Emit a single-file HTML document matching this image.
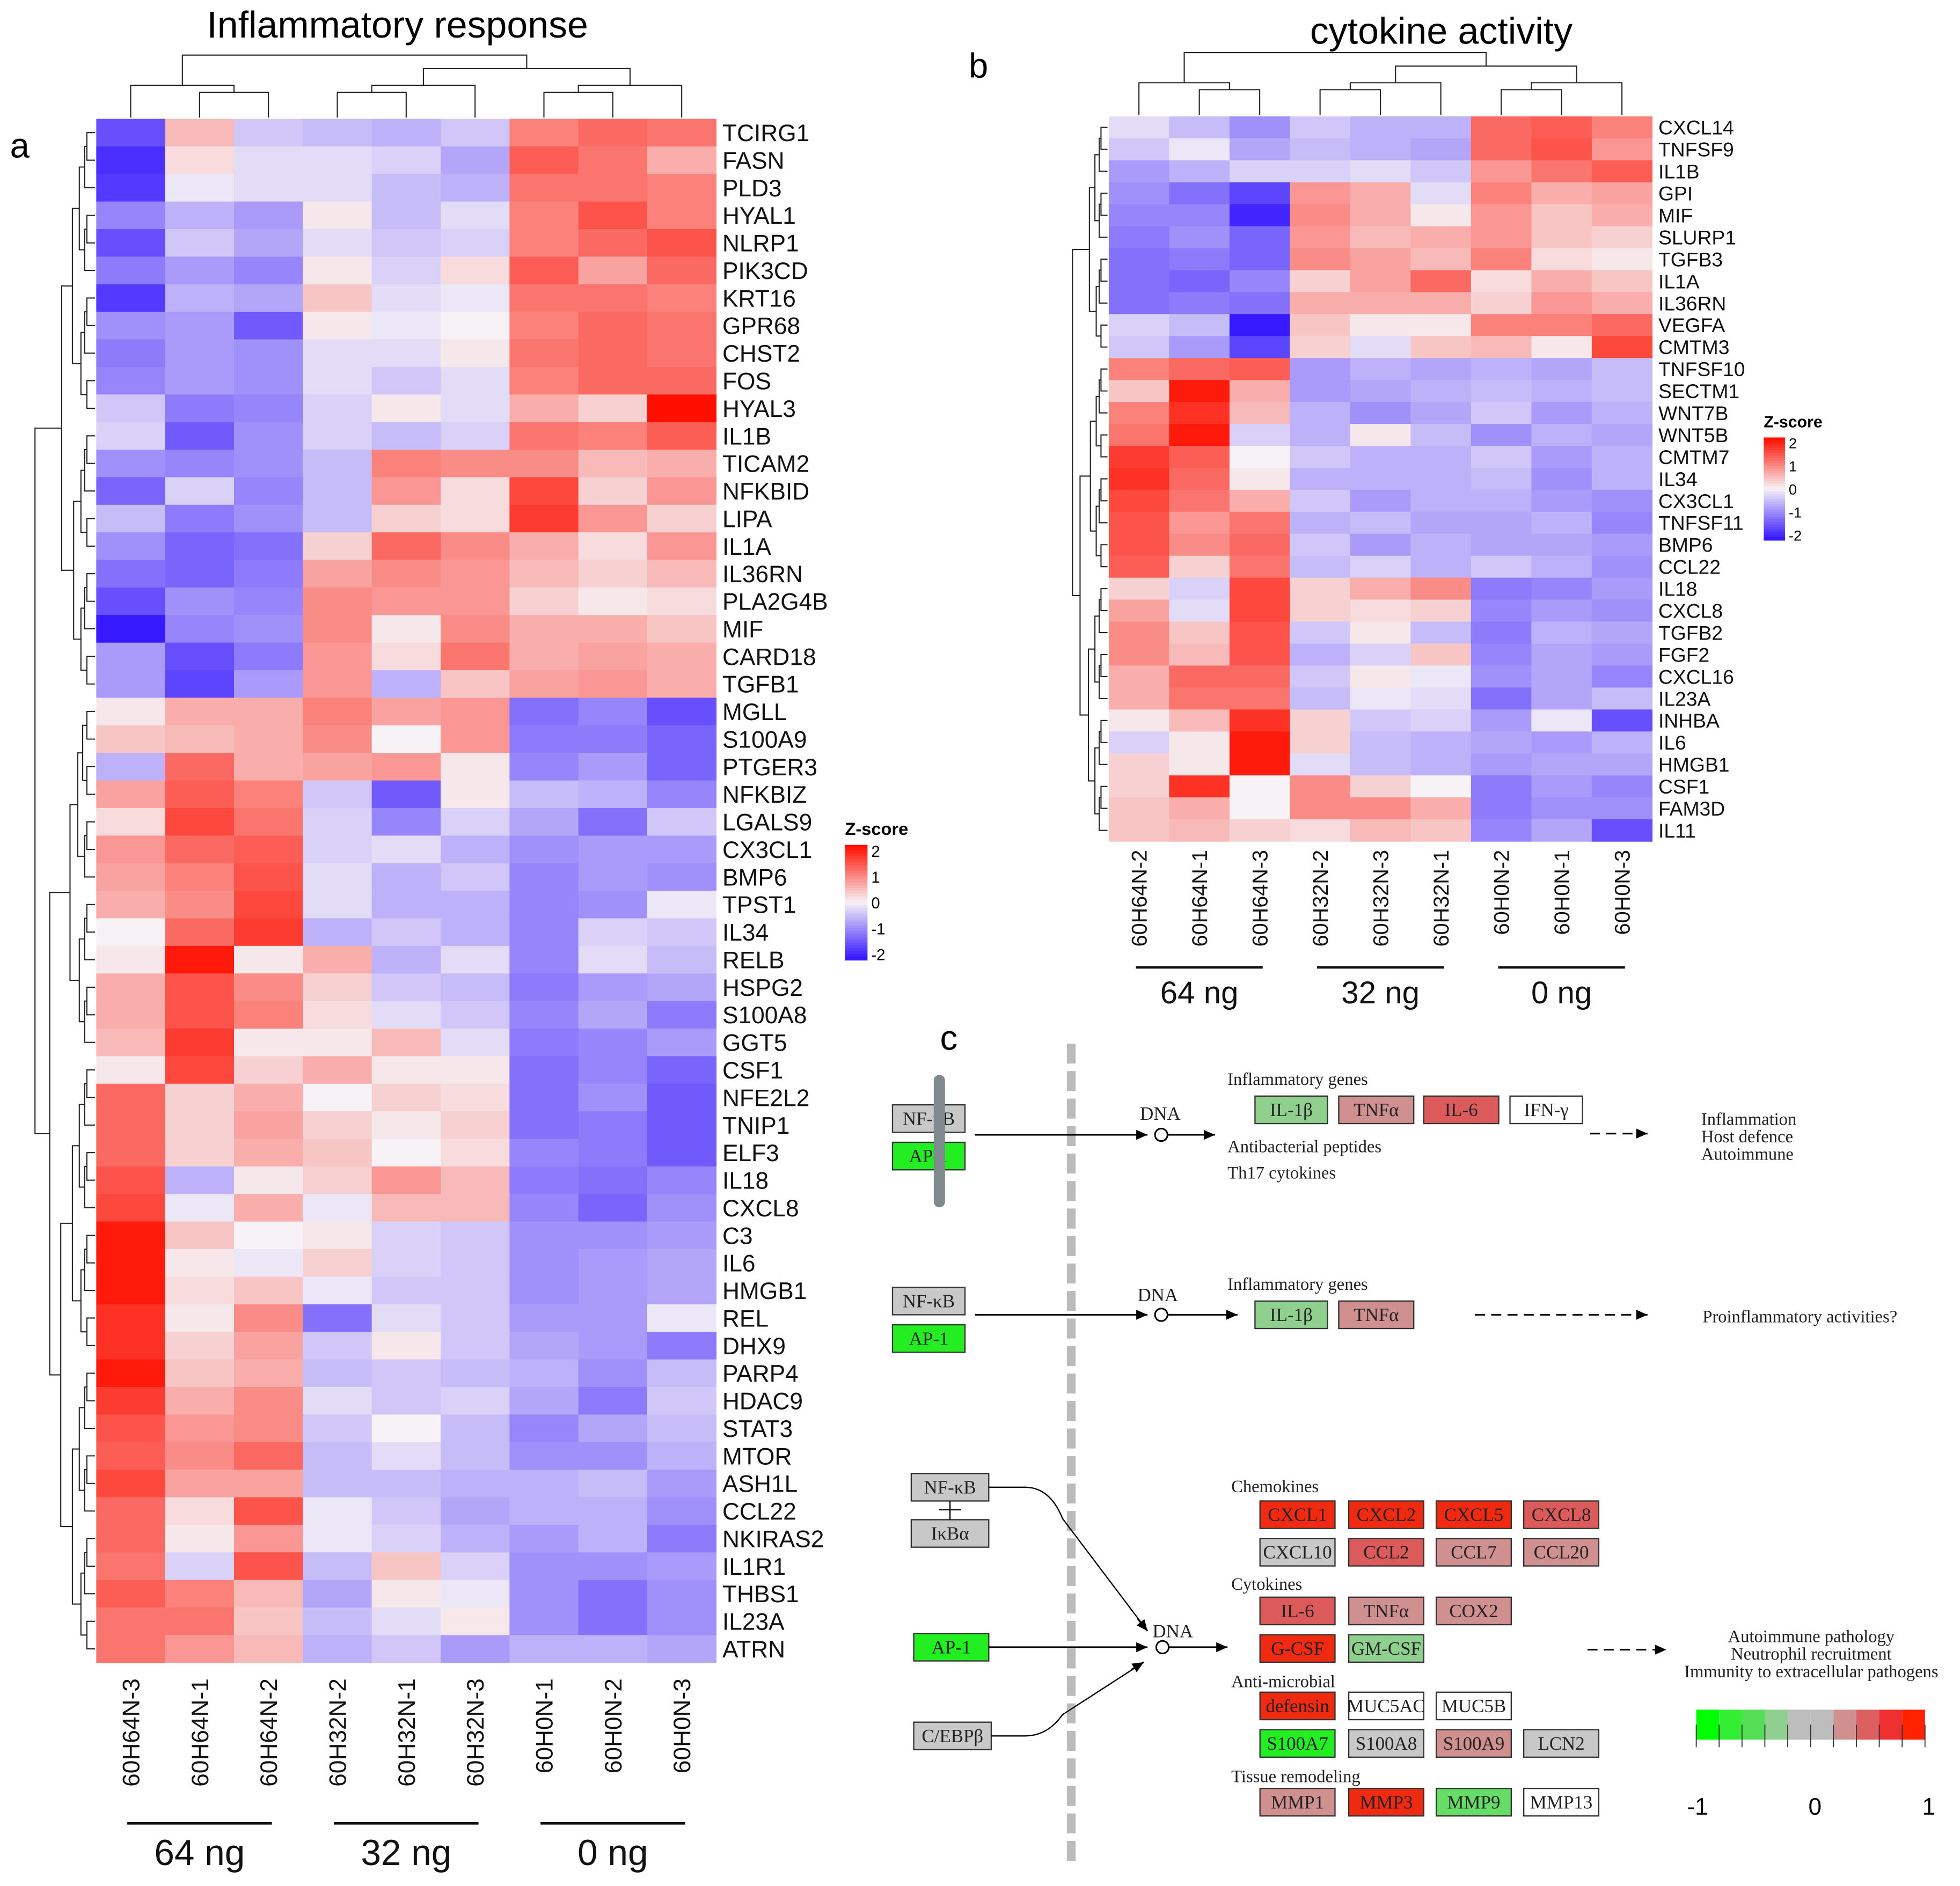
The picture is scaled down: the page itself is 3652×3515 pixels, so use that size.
<!DOCTYPE html>
<html><head><meta charset="utf-8">
<style>html,body{margin:0;padding:0;background:#fff;}svg{display:block;}</style>
</head><body>
<svg id="fig" xmlns="http://www.w3.org/2000/svg" width="3652" height="3515" viewBox="0 0 1568 1509" font-family="Liberation Sans, Arial, sans-serif">
<rect width="1568" height="1509" fill="#fff"/>
<g id="gA"></g>
<g id="gB"></g>
<g id="gC"></g>
</svg>
<script>
const colsA=["60H64N-3","60H64N-1","60H64N-2","60H32N-2","60H32N-1","60H32N-3","60H0N-1","60H0N-2","60H0N-3"];
const rowsA=["TCIRG1","FASN","PLD3","HYAL1","NLRP1","PIK3CD","KRT16","GPR68","CHST2","FOS","HYAL3","IL1B","TICAM2","NFKBID","LIPA","IL1A","IL36RN","PLA2G4B","MIF","CARD18","TGFB1","MGLL","S100A9","PTGER3","NFKBIZ","LGALS9","CX3CL1","BMP6","TPST1","IL34","RELB","HSPG2","S100A8","GGT5","CSF1","NFE2L2","TNIP1","ELF3","IL18","CXCL8","C3","IL6","HMGB1","REL","DHX9","PARP4","HDAC9","STAT3","MTOR","ASH1L","CCL22","NKIRAS2","IL1R1","THBS1","IL23A","ATRN"];
const valsA=[
[-1.5,0.5,-0.4,-0.5,-0.6,-0.4,1.0,1.2,1.1],
[-1.8,0.2,-0.2,-0.2,-0.3,-0.7,1.3,1.1,0.6],
[-1.7,-0.1,-0.2,-0.2,-0.5,-0.6,1.1,1.1,1.0],
[-1.0,-0.6,-0.8,0.1,-0.5,-0.2,1.0,1.4,1.0],
[-1.5,-0.4,-0.7,-0.2,-0.4,-0.3,1.0,1.2,1.4],
[-1.1,-0.8,-1.0,0.1,-0.3,0.2,1.3,0.7,1.2],
[-1.7,-0.6,-0.7,0.4,-0.2,-0.1,1.1,1.1,1.0],
[-0.9,-0.8,-1.4,0.1,-0.1,0.0,1.0,1.2,1.1],
[-1.1,-0.8,-0.9,-0.2,-0.2,0.1,1.1,1.2,1.1],
[-1.0,-0.8,-0.9,-0.2,-0.4,-0.2,1.0,1.2,1.2],
[-0.4,-1.1,-1.0,-0.3,0.1,-0.2,0.6,0.3,2.0],
[-0.3,-1.4,-0.9,-0.3,-0.5,-0.3,1.1,1.0,1.3],
[-0.9,-1.0,-0.9,-0.5,1.0,0.9,0.9,0.5,0.6],
[-1.3,-0.3,-1.0,-0.5,0.8,0.2,1.5,0.3,0.8],
[-0.5,-1.1,-0.9,-0.5,0.3,0.2,1.6,0.8,0.3],
[-0.9,-1.3,-1.2,0.3,1.2,0.9,0.6,0.2,0.8],
[-1.2,-1.3,-1.1,0.7,0.9,0.8,0.5,0.3,0.5],
[-1.5,-0.9,-1.0,0.9,0.8,0.8,0.3,0.1,0.2],
[-2.0,-1.0,-0.9,0.9,0.1,0.9,0.6,0.6,0.4],
[-0.8,-1.5,-1.1,0.8,0.2,1.1,0.6,0.7,0.6],
[-0.8,-1.6,-0.8,0.8,-0.6,0.4,0.7,0.8,0.6],
[0.1,0.6,0.6,1.0,0.7,0.8,-1.2,-1.0,-1.5],
[0.4,0.5,0.6,0.9,0.0,0.8,-1.1,-1.1,-1.3],
[-0.6,1.2,0.6,0.7,0.8,0.1,-1.0,-0.8,-1.3],
[0.7,1.3,1.0,-0.4,-1.4,0.1,-0.5,-0.6,-1.0],
[0.2,1.5,1.1,-0.3,-1.0,-0.3,-0.7,-1.2,-0.4],
[0.8,1.2,1.3,-0.3,-0.2,-0.6,-0.9,-0.8,-0.8],
[0.7,1.0,1.4,-0.2,-0.6,-0.4,-1.0,-0.8,-0.9],
[0.6,0.9,1.5,-0.2,-0.6,-0.6,-1.0,-0.9,-0.1],
[0.0,1.2,1.6,-0.6,-0.4,-0.6,-1.0,-0.3,-0.4],
[0.1,1.9,0.1,0.6,-0.6,-0.2,-1.0,-0.2,-0.5],
[0.6,1.4,0.9,0.3,-0.4,-0.5,-1.1,-0.8,-0.7],
[0.6,1.4,1.0,0.2,-0.2,-0.4,-1.0,-0.7,-1.1],
[0.5,1.6,0.1,0.1,0.5,-0.2,-1.1,-1.0,-0.8],
[0.1,1.5,0.3,0.6,0.1,0.1,-1.2,-1.0,-1.3],
[1.2,0.3,0.6,0.0,0.3,0.2,-1.2,-0.9,-1.4],
[1.2,0.3,0.7,0.3,0.1,0.3,-1.2,-1.1,-1.4],
[1.2,0.3,0.6,0.4,0.0,0.2,-1.0,-1.1,-1.4],
[1.4,-0.6,0.1,0.3,0.8,0.5,-1.1,-1.2,-1.0],
[1.5,-0.1,0.6,-0.1,0.5,0.5,-1.0,-1.3,-0.9],
[1.9,0.4,0.0,0.1,-0.3,-0.4,-0.9,-0.9,-0.8],
[1.9,0.1,-0.1,0.3,-0.3,-0.4,-0.9,-0.8,-0.7],
[1.9,0.2,0.4,-0.1,-0.4,-0.4,-0.9,-0.8,-0.7],
[1.7,0.1,0.9,-1.2,-0.2,-0.4,-0.8,-0.8,-0.1],
[1.7,0.3,0.7,-0.4,0.1,-0.4,-0.7,-0.8,-1.1],
[1.9,0.4,0.6,-0.5,-0.4,-0.5,-0.6,-0.9,-0.5],
[1.6,0.6,0.9,-0.2,-0.4,-0.3,-0.7,-1.1,-0.4],
[1.4,0.8,0.9,-0.4,0.0,-0.5,-1.0,-0.7,-0.5],
[1.3,0.9,1.2,-0.5,-0.2,-0.5,-0.9,-0.9,-0.6],
[1.5,0.7,0.7,-0.5,-0.5,-0.6,-0.6,-0.5,-0.8],
[1.2,0.2,1.4,-0.1,-0.4,-0.7,-0.6,-0.6,-0.9],
[1.2,0.1,0.8,-0.1,-0.3,-0.6,-0.8,-0.6,-1.1],
[1.1,-0.3,1.4,-0.5,0.4,-0.3,-0.9,-0.9,-0.8],
[1.3,1.0,0.5,-0.7,0.1,-0.1,-0.9,-1.2,-0.9],
[1.1,1.1,0.4,-0.5,-0.2,0.1,-0.9,-1.2,-0.9],
[1.1,0.8,0.5,-0.6,-0.4,-0.8,-0.6,-0.6,-0.7]];
const colsB=["60H64N-2","60H64N-1","60H64N-3","60H32N-2","60H32N-3","60H32N-1","60H0N-2","60H0N-1","60H0N-3"];
const rowsB=["CXCL14","TNFSF9","IL1B","GPI","MIF","SLURP1","TGFB3","IL1A","IL36RN","VEGFA","CMTM3","TNFSF10","SECTM1","WNT7B","WNT5B","CMTM7","IL34","CX3CL1","TNFSF11","BMP6","CCL22","IL18","CXCL8","TGFB2","FGF2","CXCL16","IL23A","INHBA","IL6","HMGB1","CSF1","FAM3D","IL11"];
const valsB=[
[-0.2,-0.5,-0.9,-0.4,-0.6,-0.6,1.2,1.3,1.0],
[-0.4,-0.1,-0.7,-0.5,-0.6,-0.7,1.2,1.4,0.8],
[-0.8,-0.6,-0.3,-0.3,-0.2,-0.4,0.8,1.1,1.3],
[-0.9,-1.2,-1.6,0.8,0.6,-0.2,1.0,0.6,0.7],
[-1.0,-1.0,-1.9,0.9,0.6,0.1,0.8,0.4,0.6],
[-1.1,-0.9,-1.3,0.8,0.5,0.6,0.8,0.4,0.3],
[-1.2,-1.1,-1.3,0.9,0.7,0.5,1.0,0.2,0.1],
[-1.2,-1.3,-1.0,0.3,0.7,1.2,0.2,0.6,0.4],
[-1.2,-1.1,-1.2,0.6,0.6,0.6,0.3,0.8,0.6],
[-0.3,-0.5,-2.0,0.4,0.1,0.1,1.0,1.0,1.2],
[-0.4,-0.8,-1.6,0.3,-0.2,0.4,0.5,0.1,1.5],
[1.0,1.2,1.3,-0.8,-0.6,-0.7,-0.6,-0.7,-0.5],
[0.4,1.9,0.6,-0.8,-0.7,-0.6,-0.5,-0.6,-0.5],
[1.0,1.7,0.5,-0.6,-0.9,-0.7,-0.4,-0.8,-0.6],
[1.1,1.9,-0.3,-0.6,0.1,-0.5,-0.9,-0.6,-0.7],
[1.6,1.3,0.0,-0.4,-0.6,-0.6,-0.4,-0.8,-0.6],
[1.7,1.2,0.1,-0.6,-0.6,-0.6,-0.5,-0.9,-0.6],
[1.5,1.1,0.6,-0.4,-0.8,-0.6,-0.6,-0.8,-0.9],
[1.4,0.8,1.1,-0.6,-0.5,-0.7,-0.7,-0.6,-1.0],
[1.4,0.9,1.2,-0.4,-0.8,-0.6,-0.7,-0.7,-0.8],
[1.3,0.3,1.1,-0.5,-0.3,-0.6,-0.4,-0.6,-0.9],
[0.3,-0.3,1.5,0.3,0.6,0.9,-1.1,-1.0,-0.8],
[0.7,-0.2,1.5,0.3,0.2,0.3,-1.0,-0.8,-0.9],
[0.9,0.4,1.4,-0.4,0.1,-0.5,-1.1,-0.6,-0.7],
[0.9,0.5,1.4,-0.6,-0.3,0.4,-1.0,-0.7,-0.8],
[0.6,1.2,1.2,-0.4,0.1,-0.1,-0.9,-0.7,-1.0],
[0.6,1.1,1.1,-0.5,-0.1,-0.2,-1.2,-0.7,-0.5],
[0.1,0.5,1.7,0.3,-0.4,-0.3,-0.8,-0.1,-1.5],
[-0.3,0.1,1.9,0.3,-0.5,-0.6,-0.7,-0.8,-0.6],
[0.3,0.1,1.9,-0.2,-0.5,-0.6,-0.8,-0.7,-0.7],
[0.3,1.7,0.0,0.9,0.3,0.0,-1.1,-0.8,-1.0],
[0.4,0.6,0.0,0.9,0.9,0.6,-1.1,-0.9,-0.9],
[0.4,0.5,0.3,0.2,0.5,0.4,-1.0,-0.7,-1.5]];
const zTicks=["2","1","0","-1","-2"];
const groupLabels=["64 ng","32 ng","0 ng"];

const NS="http://www.w3.org/2000/svg";
function mk(parent,tag,attrs,text){const e=document.createElementNS(NS,tag);for(const k in attrs)e.setAttribute(k,attrs[k]);if(text!==undefined)e.textContent=text;parent.appendChild(e);return e;}
function zcol(z){z=Math.max(-2,Math.min(2,z));const mid=[246,242,246];let c;
 if(z<0){const t=-z/2;c=[mid[0]+(55-mid[0])*t,mid[1]+(25-mid[1])*t,mid[2]+(255-mid[2])*t];}
 else{const t=z/2;c=[mid[0]+(255-mid[0])*t,mid[1]+(15-mid[1])*t,mid[2]+(0-mid[2])*t];}
 return `rgb(${c.map(v=>Math.round(v)).join(',')})`;}

function tree(g,lo,hi,splits,pos,base,len,N,orient){
 if(lo===hi)return [pos(lo),base];
 let m;const sp=splits.find(s=>s[0]===lo&&s[1]===hi);m=sp?sp[2]:Math.floor((lo+hi)/2);
 const a=tree(g,lo,m,splits,pos,base,len,N,orient),b=tree(g,m+1,hi,splits,pos,base,len,N,orient);
 const n=hi-lo+1;const d=base-len*Math.pow(n/N,0.6);
 let p;
 if(orient==='row') p=`M${a[1]},${a[0]}H${d}V${b[0]}H${b[1]}`;
 else p=`M${a[0]},${a[1]}V${d}H${b[0]}V${b[1]}`;
 const e=mk(g,'path',{d:p,fill:'none',stroke:'#222','stroke-width':0.9});
 
 
 return [(a[0]+b[0])/2,d];}

function heatmap(g,rows,cols,vals,x0,y0,cw,rh,fs,labFs,labY,rowDx,rowLen,colLen,rowSplits,colSplits,grpY,grpLabX,grpFs){
 vals.forEach((r,i)=>r.forEach((v,j)=>{
  const c=mk(g,'rect',{x:x0+j*cw,y:y0+i*rh,width:cw+0.3,height:rh+0.3,fill:zcol(v)});
  
  
 }));
 rows.forEach((r,i)=>{const t=mk(g,'text',{x:x0+cols.length*cw+rowDx,y:y0+(i+0.5)*rh+fs*0.36,'font-size':fs,fill:'#111'},r);
  
  });
 cols.forEach((c,j)=>{const cx=x0+(j+0.5)*cw;const t=mk(g,'text',{x:0,y:0,'font-size':labFs,'text-anchor':'end',transform:`translate(${cx+labFs*0.36},${labY}) rotate(-90)`,fill:'#111'},c);
  
  });
 tree(g,0,rows.length-1,rowSplits,i=>y0+(i+0.5)*rh,x0-1,rowLen,rows.length,'row');
 tree(g,0,cols.length-1,colSplits,j=>x0+(j+0.5)*cw,y0-1,colLen,cols.length,'col');
 groupLabels.forEach((l,k)=>{const x1=x0+(k*3+0.45)*cw,x2=x0+(k*3+2.55)*cw;
  const ln=mk(g,'line',{x1:x1,x2:x2,y1:grpY,y2:grpY,stroke:'#111','stroke-width':2});
  
  
  const t=mk(g,'text',{x:x0+(k*3+1.5)*cw,y:grpY+grpFs*1.15,'font-size':grpFs,'text-anchor':'middle',fill:'#111'},l);
  
  });
}
function legend(g,x,y,w,h,fs){
 const t=mk(g,'text',{x:x,y:y-8,'font-size':fs,'font-weight':'bold'},'Z-score');
 
 
 const n=40;for(let i=0;i<n;i++){const z=2-4*i/(n-1);const r=mk(g,'rect',{x:x,y:y+i*h/n,width:w,height:h/n+0.5,fill:zcol(z)});
  
  }
 zTicks.forEach((s,i)=>{const ty=y+h*0.05+i*h*0.9/4;
  const tl=mk(g,'text',{x:x+w+3,y:ty+fs*0.35,'font-size':fs*0.9},s);
  
  });
}
const gA=document.getElementById('gA'),gB=document.getElementById('gB'),gC=document.getElementById('gC');
heatmap(gA,rowsA,colsA,valsA,77,95,55.1,22.06,19,19,1343,5,48,50,[[0,55,20],[21,55,33]],[[0,8,2],[0,2,0],[3,8,5]],1459,0,29);
heatmap(gB,rowsB,colsB,valsB,887,93,48.3,17.58,16,17,680,5,28,50,[[0,32,10],[11,32,20]],[[0,8,2],[0,2,0],[3,8,5]],774,0,25);
legend(gA,676,676,18,92,14);
legend(gB,1411,350,17,82,13);
[["Inflammatory response",318,30,30],["cytokine activity",1153,35,30]].forEach(a=>{const t=mk(document.getElementById('fig'),'text',{x:a[1],y:a[2],'font-size':a[3],'text-anchor':'middle'},a[0]);
 
 });
[["a",8,126],["b",775,62],["c",752,840]].forEach(a=>{const t=mk(document.getElementById('fig'),'text',{x:a[1],y:a[2],'font-size':28},a[0]);
 
 });

const SER='Liberation Serif, Times New Roman, serif';
function box(x,y,w,label,fill){const r=mk(gC,'rect',{x:x,y:y,width:w,height:22,fill:fill,stroke:'#333','stroke-width':1});
 
 
 const t=mk(gC,'text',{x:x+w/2,y:y+16,'font-size':15,'text-anchor':'middle','font-family':SER,fill:'#222'},label);
 
 }
function txt(x,y,s,fs,anchor){const t=mk(gC,'text',{x:x,y:y,'font-size':fs||14,'font-family':SER,'text-anchor':anchor||'start',fill:'#222'},s);
 
 }
function arrow(x1,y1,x2,y2,dash){const l=mk(gC,'line',{x1:x1,y1:y1,x2:x2,y2:y2,stroke:'#000','stroke-width':1.3,'stroke-dasharray':dash||'none'});
 
 
 const a=Math.atan2(y2-y1,x2-x1),s=9;
 mk(gC,'polygon',{points:`${x2},${y2} ${x2-s*Math.cos(a)+4*Math.sin(a)},${y2-s*Math.sin(a)-4*Math.cos(a)} ${x2-s*Math.cos(a)-4*Math.sin(a)},${y2-s*Math.sin(a)+4*Math.cos(a)}`,fill:'#000'});}
function dna(x,y){mk(gC,'circle',{cx:x,cy:y,r:5,fill:'#fff',stroke:'#000','stroke-width':1.3});}
const dl=mk(gC,'line',{x1:857,y1:835,x2:857,y2:1492,stroke:'#bbb','stroke-width':7,'stroke-dasharray':'16,6'});


const GR='#c8c8c8',GN='#22ee22',LG='#8fd08f',PK='#d09090',MR='#dd5a5a',RD='#f02a10';
box(714,884,58,'NF-κB',GR);box(714,914,58,'AP-1',GN);
const gb=mk(gC,'rect',{x:747,y:860,width:9,height:106,rx:4.5,fill:'#7f8a8f'});


arrow(780,908,918,908);dna(929,908);arrow(934,908,972,908);txt(912,896,'DNA',15);
txt(982,868,'Inflammatory genes',14);
box(1004,877,58,'IL-1β',LG);box(1071,877,60,'TNFα',PK);box(1139,877,60,'IL-6',MR);box(1208,877,58,'IFN-γ','#fff');
txt(982,922,'Antibacterial peptides',14);txt(982,943,'Th17 cytokines',14);
arrow(1272,907,1318,907,'8,5');
txt(1361,900,'Inflammation',14);txt(1361,914,'Host defence',14);txt(1361,928,'Autoimmune',14);
box(714,1030,58,'NF-κB',GR);box(714,1060,58,'AP-1',GN);
arrow(780,1052,918,1052);dna(929,1052);arrow(934,1052,990,1052);txt(910,1041,'DNA',15);
txt(982,1032,'Inflammatory genes',14);
box(1004,1041,58,'IL-1β',LG);box(1071,1041,60,'TNFα',PK);
arrow(1180,1052,1318,1052,'8,5');txt(1362,1058,'Proinflammatory activities?',14);
box(729,1179,62,'NF-κB',GR);box(729,1216,62,'IκBα',GR);
mk(gC,'line',{x1:760,y1:1201,x2:760,y2:1216,stroke:'#000'});mk(gC,'line',{x1:751,y1:1208,x2:769,y2:1208,stroke:'#000'});
box(731,1307,60,'AP-1',GN);box(731,1378,62,'C/EBPβ',GR);
mk(gC,'path',{d:'M791,1190 H820 Q840,1190 850,1215 L918,1305',fill:'none',stroke:'#000','stroke-width':1});
arrow(910,1295,918,1305);
arrow(791,1318,918,1318);
mk(gC,'path',{d:'M793,1389 H820 Q838,1389 850,1372 L915,1330',fill:'none',stroke:'#000','stroke-width':1});
arrow(905,1336,915,1330);
dna(930,1318);arrow(935,1318,982,1318);txt(922,1310,'DNA',15);
txt(985,1194,'Chemokines',14);
box(1008,1201,60,'CXCL1',RD);box(1079,1201,60,'CXCL2',RD);box(1149,1201,60,'CXCL5',RD);box(1219,1201,60,'CXCL8',MR);
box(1008,1231,60,'CXCL10',GR);box(1079,1231,60,'CCL2',MR);box(1149,1231,60,'CCL7',PK);box(1219,1231,60,'CCL20',PK);
txt(985,1272,'Cytokines',14);
box(1008,1278,60,'IL-6',MR);box(1079,1278,60,'TNFα',PK);box(1149,1278,60,'COX2',PK);
box(1008,1308,60,'G-CSF',RD);box(1079,1308,60,'GM-CSF',LG);
txt(985,1350,'Anti-microbial',14);
box(1008,1354,60,'defensin',RD);box(1079,1354,60,'MUC5AC','#fff');box(1149,1354,60,'MUC5B','#fff');
box(1008,1384,60,'S100A7',GN);box(1079,1384,60,'S100A8',GR);box(1149,1384,60,'S100A9',PK);box(1219,1384,60,'LCN2',GR);
txt(985,1426,'Tissue remodeling',14);
box(1008,1431,60,'MMP1',PK);box(1079,1431,60,'MMP3',RD);box(1149,1431,60,'MMP9','#66dd66');box(1219,1431,60,'MMP13','#fff');
arrow(1270,1320,1333,1320,'8,5');
txt(1449,1314,'Autoimmune pathology',14,'middle');txt(1449,1328,'Neutrophil recruitment',14,'middle');txt(1449,1342,'Immunity to extracellular pathogens',14,'middle');
const legCols=['#00ff00','#33ee33','#55dd55','#8fcf8f','#bdbdbd','#bdbdbd','#d09090','#dd6060','#ee3030','#ff2200'];
legCols.forEach((c,i)=>{const r=mk(gC,'rect',{x:1357+i*18.3,y:1368,width:18.3,height:24,fill:c});
 
 
 mk(gC,'line',{x1:1357+i*18.3,x2:1357+i*18.3,y1:1380,y2:1398,stroke:'#333','stroke-width':0.8});});
mk(gC,'line',{x1:1540,x2:1540,y1:1380,y2:1398,stroke:'#333','stroke-width':0.8});
[["-1",1358],["0",1452],["1",1543]].forEach(a=>{const t=mk(gC,'text',{x:a[1],y:1452,'font-size':19,'text-anchor':'middle'},a[0]);
 
 });
</script>
</body></html>
